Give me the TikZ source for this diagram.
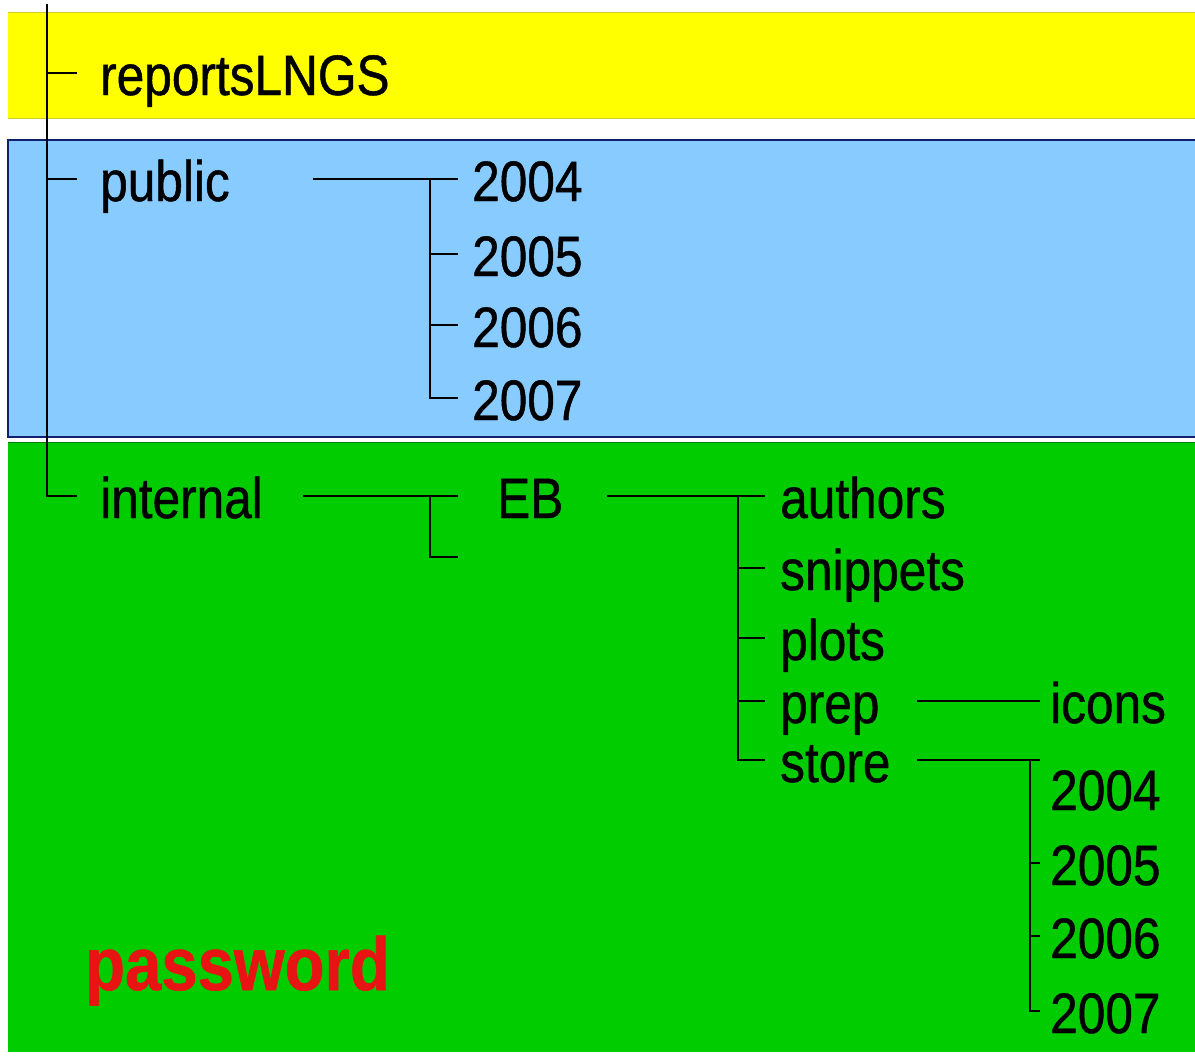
\documentclass[tikz,border=0pt]{standalone}
\usepackage{fontspec}
\newfontfamily\treefont[FakeStretch=0.87, FakeBold=0.8]{Liberation Sans}
\definecolor{bandyellow}{RGB}{255,255,0}
\definecolor{bandblue}{RGB}{136,204,255}
\definecolor{bandnavy}{RGB}{20,30,110}
\definecolor{bandgreen}{RGB}{0,204,0}
\definecolor{pwred}{RGB}{232,20,20}
\begin{document}
\begin{tikzpicture}[x=1pt, y=-1pt,
    dir/.style={anchor=base west, inner ysep=0pt, inner xsep=14pt,
        text height=44pt, text depth=0pt, font={\treefont\fontsize{57}{60}\selectfont}},
    tree/.style={line width=2.2pt, black}]
    \useasboundingbox (0,0) rectangle (1195,1061);
    % the three areas
    \fill[bandyellow] (8,12) rectangle (1195,118);
    \draw[yellow!80!black, line width=0.8pt] (8,12) -- (1195,12) (8,118) -- (1195,118);
    \fill[bandblue] (8,140) rectangle (1195,437);
    \draw[bandnavy, line width=2pt] (1195,140) -- (8,140) -- (8,437) -- (1195,437);
    \fill[bandgreen] (8,442) rectangle (1195,1052);
    \draw[green!50!black, line width=0.8pt] (8,442) -- (1195,442);

    % top level
    \node[dir, inner xsep=23pt] (reports) at (77,95) {reportsLNGS};
    \node[dir, inner xsep=23pt] (public) at (77,201) {public};
    \node[dir, inner xsep=23pt] (internal) at (77,518) {internal};
    \coordinate (root) at (47,4);
    \draw[tree] (root) |- (internal.west);
    \draw[tree] (root |- reports.west) -- (reports.west);
    \draw[tree] (root |- public.west) -- (public.west);

    % public
    \node[dir] (p2004) at (458,201) {2004};
    \node[dir] (p2005) at (458,276) {2005};
    \node[dir] (p2006) at (458,347) {2006};
    \node[dir] (p2007) at (458,420) {2007};
    \coordinate (pubout) at (313,179);
    \coordinate (pubbus) at (430,179);
    \draw[tree] (pubout) -- (p2004.west);
    \draw[tree] (pubbus) |- (p2007.west);
    \foreach \n in {p2005,p2006}
        \draw[tree] (pubbus |- \n.west) -- (\n.west);

    % internal
    \node[dir, inner xsep=39pt] (eb) at (458,518) {EB};
    \coordinate (intout) at (303,496);
    \coordinate (intbus) at (430,496);
    \coordinate (intstub) at (458,557);
    \draw[tree] (intout) -- (eb.west);
    \draw[tree] (intbus) |- (intstub);

    % EB
    \node[dir, inner xsep=15pt] (authors) at (765,518) {authors};
    \node[dir, inner xsep=15pt] (snippets) at (765,590) {snippets};
    \node[dir, inner xsep=15pt] (plots) at (765,660) {plots};
    \node[dir, inner xsep=15pt] (prep) at (765,723) {prep};
    \node[dir, inner xsep=15pt] (store) at (765,782) {store};
    \coordinate (ebout) at (607,496);
    \coordinate (ebbus) at (738,496);
    \draw[tree] (ebout) -- (authors.west);
    \draw[tree] (ebbus) |- (store.west);
    \foreach \n in {snippets,plots,prep}
        \draw[tree] (ebbus |- \n.west) -- (\n.west);

    % prep and store
    \node[dir, inner xsep=10pt] (icons) at (1040,723) {icons};
    \node[dir, inner xsep=10pt] (s2004) at (1040,810) {2004};
    \node[dir, inner xsep=10pt] (s2005) at (1040,885) {2005};
    \node[dir, inner xsep=10pt] (s2006) at (1040,958) {2006};
    \node[dir, inner xsep=10pt] (s2007) at (1040,1033) {2007};
    \coordinate (prepout) at (917,701);
    \coordinate (storeout) at (917,760);
    \coordinate (storebus) at (1030,760);
    \draw[tree] (prepout) -- (icons.west);
    \draw[tree] (storeout) -- (storeout -| s2004.west);
    \draw[tree] (storebus) |- (s2007.west);
    \foreach \n in {s2005,s2006}
        \draw[tree] (storebus |- \n.west) -- (\n.west);

    \node[anchor=base west, inner sep=0pt, text=pwred,
        font={\treefont\bfseries\fontsize{75}{80}\selectfont}] (pw) at (85,990) {password};
\end{tikzpicture}
\end{document}
